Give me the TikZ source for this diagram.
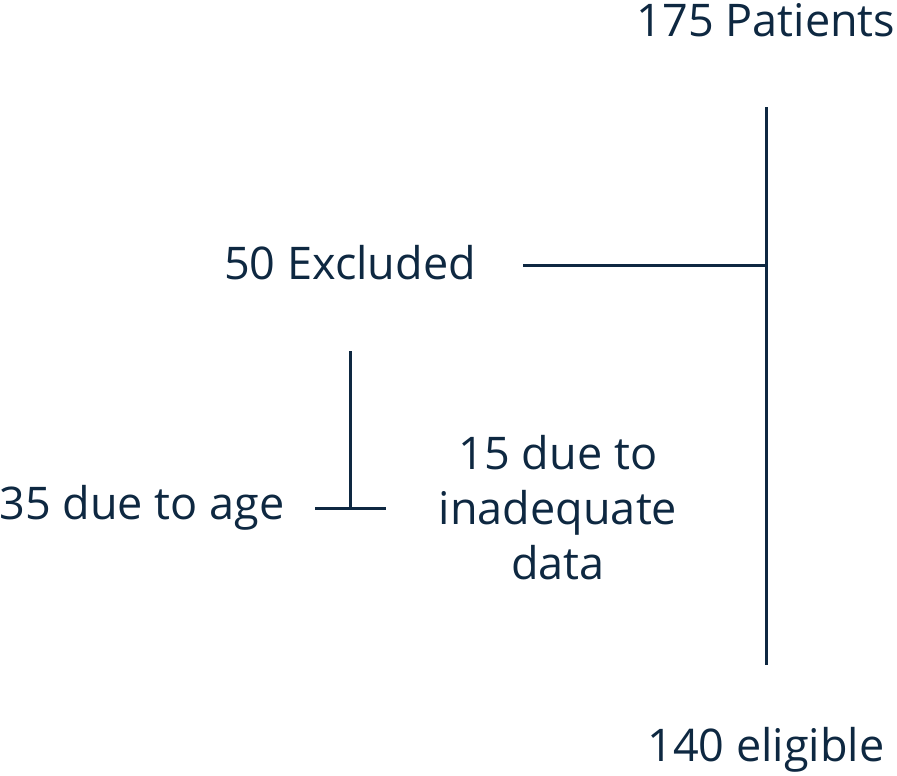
\documentclass[tikz,border=0pt]{standalone}
\usepackage{fontspec}
\setmainfont{Open Sans}
\definecolor{navy}{HTML}{0E2841}
\begin{document}
\begin{tikzpicture}[x=1pt,y=-1pt,
  lbl/.style={text=navy,font=\fontsize{45}{55}\selectfont,inner sep=0pt,align=center},
  ln/.style={draw=navy,line width=3pt}]
\useasboundingbox (0,0) rectangle (897,776);
\node[lbl] (pat) at (766,20) {175 Patients};
\node[lbl] (eli) at (766,750) {140 eligible};
\node[lbl] (exc) at (350,263) {50 Excluded};
\node[lbl] (age) at (142,508) {35 due to age};
\node[lbl] (inad) at (558,508) {15 due to\\inadequate\\data};
\coordinate (top) at (766,107);
\coordinate (bot) at (766,665);
\coordinate (j) at (766,265);
\coordinate (e) at (523,265);
\coordinate (s1) at (350,351);
\coordinate (s2) at (350,508);
\coordinate (h1) at (315,508);
\coordinate (h2) at (386,508);
\draw[ln] (top) -- (bot);
\draw[ln] (e) -- (j);
\draw[ln] (s1) -- (s2);
\draw[ln] (h1) -- (h2);
\end{tikzpicture}
\end{document}
